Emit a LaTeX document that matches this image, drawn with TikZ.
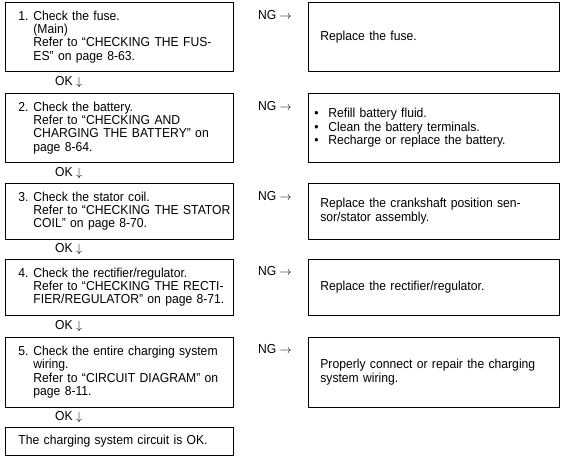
\documentclass[tikz,border=0pt]{standalone}
\usepackage{fontspec}
\setmainfont{Liberation Sans}[FakeStretch=0.935]
\usepackage{tikz}
\usetikzlibrary{positioning}

% numbered check text with hanging indent, and bullet for the remedy lists
\newcommand{\chkno}[2]{\makebox[15pt][l]{#1}\parbox[t]{230pt}{#2}}
\newcommand{\blt}{\hspace*{-6pt}\makebox[14pt][l]{\textbullet}}

\begin{document}
\begin{tikzpicture}[
			font=\fontsize{13pt}{13.3pt}\selectfont,
			chkbox/.style={
				draw,
				line width=0.9pt,
				text width=202pt,
				inner xsep=13pt,
				align=left
			},
			fixbox/.style={
				draw,
				line width=0.9pt,
				text width=227pt,
				inner xsep=12pt,
				align=left
			},
			lbl/.style={inner sep=0pt}
			]
			
			\useasboundingbox (0,0) rectangle (567pt,-462pt);
			
			%%%%%%%%%%%%%%%%%%%%%%%%%%%%%%%%%%%%%%%%%%%%%%%%%%%%%%
			% Checks
			%%%%%%%%%%%%%%%%%%%%%%%%%%%%%%%%%%%%%%%%%%%%%%%%%%%%%%
			
			\node (chk1) [chkbox, minimum height=69pt, anchor=north west] at (5pt,-2pt)
			{\chkno{1.}{Check the fuse.\\(Main)\\Refer to “CHECKING THE FUS-\\ES” on page 8-63.}};
			
			\node (chk2) [chkbox, minimum height=69pt, below=21pt of chk1]
			{\chkno{2.}{Check the battery.\\Refer to “CHECKING AND\\CHARGING THE BATTERY” on\\page 8-64.}};
			
			\node (chk3) [chkbox, minimum height=56pt, below=20pt of chk2]
			{\chkno{3.}{Check the stator coil.\\Refer to “CHECKING THE STATOR\\COIL” on page 8-70.}};
			
			\node (chk4) [chkbox, minimum height=56pt, below=19pt of chk3]
			{\chkno{4.}{Check the rectifier/regulator.\\Refer to “CHECKING THE RECTI-\\FIER/REGULATOR” on page 8-71.}};
			
			\node (chk5) [chkbox, minimum height=70pt, below=21pt of chk4]
			{\chkno{5.}{Check the entire charging system\\wiring.\\Refer to “CIRCUIT DIAGRAM” on\\page 8-11.}};
			
			\node (done) [chkbox, minimum height=28pt, below=19pt of chk5]
			{The charging system circuit is OK.};
			
			%%%%%%%%%%%%%%%%%%%%%%%%%%%%%%%%%%%%%%%%%%%%%%%%%%%%%%
			% Remedies
			%%%%%%%%%%%%%%%%%%%%%%%%%%%%%%%%%%%%%%%%%%%%%%%%%%%%%%
			
			\node (fix1) [fixbox, minimum height=69pt, right=74pt of chk1]
			{Replace the fuse.};
			
			\node (fix2) [fixbox, minimum height=69pt, right=74pt of chk2]
			{\blt Refill battery fluid.\\\blt Clean the battery terminals.\\\blt Recharge or replace the battery.};
			
			\node (fix3) [fixbox, minimum height=56pt, right=74pt of chk3]
			{Replace the crankshaft position sen-\\sor/stator assembly.};
			
			\node (fix4) [fixbox, minimum height=56pt, right=74pt of chk4]
			{Replace the rectifier/regulator.};
			
			\node (fix5) [fixbox, minimum height=70pt, right=74pt of chk5]
			{Properly connect or repair the charging\\system wiring.};
			
			%%%%%%%%%%%%%%%%%%%%%%%%%%%%%%%%%%%%%%%%%%%%%%%%%%%%%%
			% NG / OK labels
			%%%%%%%%%%%%%%%%%%%%%%%%%%%%%%%%%%%%%%%%%%%%%%%%%%%%%%
			
			\foreach \i in {1,...,5}
			\node (ng\i) [lbl, anchor=north west] at ([xshift=24pt,yshift=-8pt]chk\i.north east)
			{NG $\rightarrow$};
			
			\foreach \i/\g in {1/10.5,2/10,3/9.5,4/10.5,5/9.5}
			\node (ok\i) [lbl, anchor=west] at ([xshift=50pt,yshift=-\g pt]chk\i.south west)
			{OK $\downarrow$};
			
			%%%%%%%%%%%%%%%%%%%%%%%%%%%%%%%%%%%%%%%%%%%%%%%%%%%%%%
			
		\end{tikzpicture}
\end{document}
